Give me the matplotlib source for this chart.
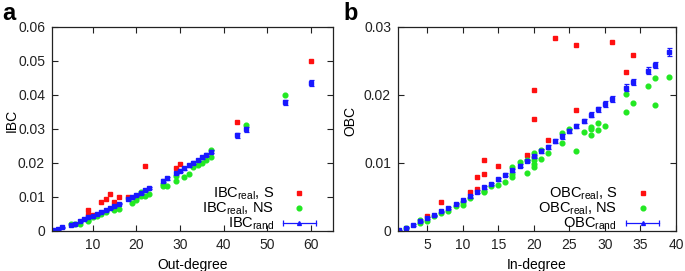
import matplotlib
matplotlib.use("Agg")
import matplotlib.pyplot as plt
from matplotlib.lines import Line2D
from matplotlib.legend_handler import HandlerLine2D

plt.rcParams['font.family'] = ['Liberation Sans', 'DejaVu Sans']
plt.rcParams['mathtext.fontset'] = 'custom'
plt.rcParams['mathtext.rm'] = 'Liberation Sans'
plt.rcParams['mathtext.it'] = 'Liberation Sans:italic'

# ---------------- Panel a data (IBC vs out-degree) ----------------
a_rand_x = [1, 2, 3, 5, 6, 7, 8, 9, 10, 11, 12, 13, 14, 15, 16, 18, 19, 20, 21, 22, 23,
            26, 27, 29, 30, 31, 32, 33, 34, 35, 36, 37, 43, 45, 54, 60]
a_rand_y = [0.0002, 0.0006, 0.0011, 0.0019, 0.0022, 0.0028, 0.0034, 0.0040, 0.0045, 0.0049,
            0.0055, 0.0061, 0.0068, 0.0073, 0.0080, 0.0093, 0.0100, 0.0107, 0.0113, 0.0120,
            0.0127, 0.0148, 0.0155, 0.0171, 0.0177, 0.0184, 0.0193, 0.0201, 0.0209, 0.0217,
            0.0224, 0.0233, 0.0282, 0.0299, 0.0378, 0.0436]
a_rand_err = [0.0002, 0.0002, 0.0002, 0.0002, 0.0002, 0.0002, 0.0002, 0.0002, 0.0002, 0.0002,
              0.0002, 0.0002, 0.0002, 0.0002, 0.0002, 0.0003, 0.0003, 0.0003, 0.0003, 0.0003,
              0.0003, 0.0004, 0.0004, 0.0004, 0.0004, 0.0004, 0.0004, 0.0004, 0.0004, 0.0004,
              0.0004, 0.0005, 0.0007, 0.0007, 0.0008, 0.0009]
a_s_x = [9, 9, 10, 12, 13, 14, 15, 16, 18, 22, 29, 30, 43, 60]
a_s_y = [0.0063, 0.0046, 0.0048, 0.0086, 0.0093, 0.0110, 0.0085, 0.0100, 0.0101, 0.0190,
         0.0184, 0.0196, 0.0322, 0.0501]
a_ns_x = [5, 6, 7, 9, 9, 10, 11, 12, 13, 15, 15, 16, 19, 20, 20, 21, 21, 22, 23,
          26, 26, 27, 29, 29, 31, 32, 33, 34, 35, 36, 37, 37, 45, 54]
a_ns_y = [0.0020, 0.0021, 0.0022, 0.0028, 0.0033, 0.0040, 0.0043, 0.0049, 0.0055, 0.0063,
          0.0067, 0.0065, 0.0081, 0.0090, 0.0096, 0.0116, 0.0104, 0.0104, 0.0109,
          0.0138, 0.0131, 0.0132, 0.0161, 0.0147, 0.0158, 0.0169, 0.0187, 0.0194, 0.0201,
          0.0209, 0.0217, 0.0238, 0.0312, 0.0399]
a_xticks = [10, 20, 30, 40, 50, 60]
a_yticks = [0, 0.01, 0.02, 0.03, 0.04, 0.05, 0.06]
a_ytick_labels = ['0', '0.01', '0.02', '0.03', '0.04', '0.05', '0.06']

# ---------------- Panel b data (OBC vs in-degree) ----------------
b_rand_x = [1, 2, 3, 4, 5, 6, 7, 8, 9, 10, 11, 12, 13, 14, 15, 16, 17, 18, 19, 20, 21, 22,
            23, 24, 25, 26, 27, 28, 29, 30, 31, 33, 34, 36, 37, 39]
b_rand_y = [0.0001, 0.0005, 0.0009, 0.0014, 0.0019, 0.0023, 0.0029, 0.0034, 0.0040, 0.0045,
            0.0051, 0.0058, 0.0064, 0.0069, 0.0076, 0.0083, 0.0089, 0.0096, 0.0103, 0.0110,
            0.0117, 0.0124, 0.0132, 0.0139, 0.0147, 0.0155, 0.0162, 0.0171, 0.0179, 0.0187,
            0.0194, 0.0211, 0.0219, 0.0236, 0.0244, 0.0263]
b_rand_err = [0.0001, 0.0001, 0.0001, 0.0001, 0.0001, 0.0001, 0.0001, 0.0001, 0.0001, 0.0001,
              0.0002, 0.0002, 0.0002, 0.0002, 0.0002, 0.0002, 0.0002, 0.0002, 0.0002, 0.0002,
              0.0003, 0.0003, 0.0003, 0.0003, 0.0003, 0.0003, 0.0003, 0.0004, 0.0004, 0.0004,
              0.0004, 0.0005, 0.0005, 0.0005, 0.0005, 0.0006]
b_s_x = [5, 7, 11, 12, 12, 13, 13, 15, 19, 20, 20, 22, 23, 26, 26, 31, 33, 34]
b_s_y = [0.0022, 0.0043, 0.0058, 0.0079, 0.0062, 0.0105, 0.0084, 0.0096, 0.0112, 0.0207,
         0.0164, 0.0134, 0.0284, 0.0274, 0.0178, 0.0278, 0.0234, 0.0259]
b_ns_x = [2, 4, 4, 5, 6, 7, 8, 9, 10, 10, 11, 13, 13, 14, 15, 16, 17, 17, 17, 18, 19, 19,
          20, 20, 20, 20, 20, 21, 21, 22, 24, 24, 25, 26, 27, 28, 28, 28, 29, 29, 30,
          33, 33, 34, 36, 37, 37, 39]
b_ns_y = [0.0004, 0.0012, 0.0016, 0.0015, 0.0022, 0.0026, 0.0030, 0.0037, 0.0038, 0.0042,
          0.0048, 0.0057, 0.0059, 0.0066, 0.0068, 0.0072, 0.0079, 0.0084, 0.0094, 0.0101,
          0.0085, 0.0105, 0.0114, 0.0109, 0.0105, 0.0099, 0.0094, 0.0119, 0.0106, 0.0115,
          0.0129, 0.0144, 0.0150, 0.0117, 0.0146, 0.0153, 0.0150, 0.0141, 0.0159, 0.0148,
          0.0155, 0.0201, 0.0175, 0.0188, 0.0213, 0.0225, 0.0185, 0.0227]
b_xticks = [5, 10, 15, 20, 25, 30, 35, 40]
b_yticks = [0, 0.01, 0.02, 0.03]
b_ytick_labels = ['0', '0.01', '0.02', '0.03']

RED = '#ff1010'
GREEN = '#22e822'
BLUE = '#1818ff'

W, H = 685, 271
fig = plt.figure(figsize=(W / 100, H / 100), dpi=100)
ax_a = fig.add_axes([52 / W, 1 - 231 / H, 281 / W, 204 / H])
ax_b = fig.add_axes([398 / W, 1 - 231 / H, 278 / W, 204 / H])


def draw(ax, sx, sy, nsx, nsy, rx, ry, re, name, xlabel, xlim, ylim, xt, yt, ytl, ylab_x):
    hs, = ax.plot(sx, sy, ls='none', marker='s', ms=3.2, color=RED, mec=RED)
    hns, = ax.plot(nsx, nsy, ls='none', marker='o', ms=3.4, color=GREEN, mec=GREEN)
    ax.errorbar(rx, ry, yerr=re, fmt='s', ms=2.3, color=BLUE, ecolor=BLUE,
                elinewidth=0.9, capsize=1.8, capthick=0.9)
    ax.set_xlim(*xlim)
    ax.set_ylim(*ylim)
    ax.set_xticks(xt)
    ax.set_yticks(yt)
    ax.set_yticklabels(ytl)
    ax.tick_params(direction='in', length=4, width=0.8, top=True, right=True,
                   labelsize=10, pad=5, colors='#222222')
    for s in ax.spines.values():
        s.set_linewidth(0.9)
        s.set_color('#222222')
    ax.set_xlabel(xlabel, fontsize=10)
    ax.xaxis.set_label_coords(0.5, -0.13)
    ax.set_ylabel(name, fontsize=10)
    ax.yaxis.set_label_coords(ylab_x, 0.54)

    caps = Line2D([], [], color=BLUE, lw=0.9, marker='|', ms=5, mew=0.9)
    tri = Line2D([], [], color=BLUE, marker='^', ms=2.8, ls='none')
    labels = [name + r'$_{\mathrm{real}}$, S', name + r'$_{\mathrm{real}}$, NS',
              name + r'$_{\mathrm{rand}}$']
    ax.legend([hs, hns, (caps, tri)], labels, loc='lower right',
              bbox_to_anchor=(0.94, -0.005), markerfirst=False, frameon=False,
              handlelength=2.3, handletextpad=0.6, labelspacing=-0.1,
              borderpad=0, borderaxespad=0, fontsize=10.5,
              handler_map={caps: HandlerLine2D(numpoints=2, marker_pad=0)})


draw(ax_a, a_s_x, a_s_y, a_ns_x, a_ns_y, a_rand_x, a_rand_y, a_rand_err, 'IBC',
     'Out-degree', (0.7, 65), (0, 0.06), a_xticks, a_yticks, a_ytick_labels, -0.117)
draw(ax_b, b_s_x, b_s_y, b_ns_x, b_ns_y, b_rand_x, b_rand_y, b_rand_err, 'OBC',
     'In-degree', (0.9, 40), (0, 0.03), b_xticks, b_yticks, b_ytick_labels, -0.147)

fig.text(2 / W, 1 - 20 / H, 'a', fontsize=17, fontweight='bold', va='baseline')
fig.text(343 / W, 1 - 20 / H, 'b', fontsize=17, fontweight='bold', va='baseline')

fig.savefig('out.png', dpi=100)
